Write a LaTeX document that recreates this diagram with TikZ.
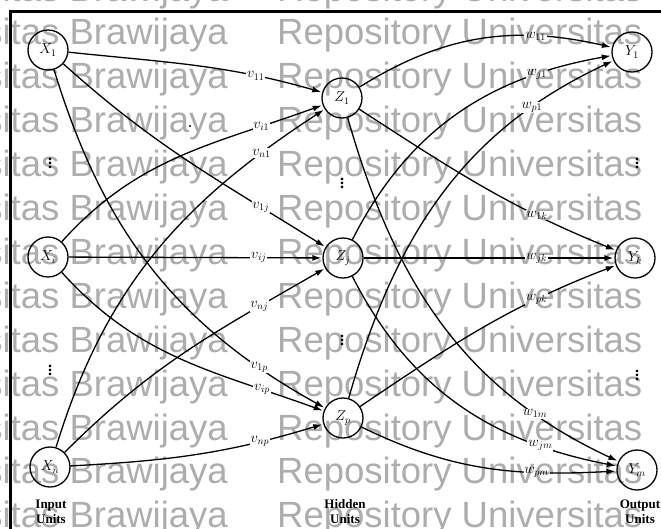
\documentclass[tikz,border=0pt]{standalone}
\usepackage{fontspec}
\setmainfont{Liberation Serif}
\newfontfamily\wmfont{Liberation Sans}
\usetikzlibrary{arrows.meta}

\begin{document}
\begin{tikzpicture}[x=1pt, y=1pt,
    % Style for the units (plain circles)
    unit/.style={circle, draw=black, line width=1.3pt, inner sep=0pt, minimum size=40pt, font=\fontsize{14}{14}\selectfont},
    % Style for the weighted connections
    link/.style={-{Latex[length=9pt, width=6pt]}, line width=1.3pt, shorten >=1pt},
    % Style for the weight labels
    wt/.style={fill=white, inner sep=0.8pt, font=\fontsize{14}{14}\selectfont},
    % Style for the layer captions
    layercap/.style={align=center, inner sep=0pt, font=\bfseries\fontsize{13}{15}\selectfont},
    % Style for the vertical ellipses
    gap/.style={inner sep=0pt, font=\bfseries\fontsize{16}{16}\selectfont},
    % Style for the watermark lettering
    wm/.style={text=black!32, inner sep=0pt, font=\wmfont\fontsize{36.5}{36.5}\selectfont}
]
\useasboundingbox (0,0) rectangle (661,-528);
\clip (0,0) rectangle (661,-528);

% Frame (left and top edges only)
\draw[line width=3pt] (10.5,-540) -- (10.5,-11.5) -- (670,-11.5);

% ==========================
% Units
% ==========================
\node[unit] (x1) at (48,-50)  {$X_1$};
\node[unit] (xi) at (48,-257) {$X_i$};
\node[unit] (xn) at (50,-467) {$X_n$};

\node[unit] (z1) at (342,-98)  {$Z_1$};
\node[unit] (zj) at (343,-258) {$Z_j$};
\node[unit] (zp) at (343,-418) {$Z_p$};

\node[unit] (y1) at (632,-52)  {$Y_1$};
\node[unit] (yk) at (635,-258) {$Y_k$};
\node[unit] (ym) at (637,-470) {$Y_m$};

% Ellipses between units
\node[gap] (d1) at (50,-160)  {$\vdots$};
\node[gap] (d2) at (50,-367)  {$\vdots$};
\node[gap] (d3) at (342,-180) {$\vdots$};
\node[gap] (d4) at (342,-337) {$\vdots$};
\node[gap] (d5) at (637,-160) {$\vdots$};
\node[gap] (d6) at (637,-372) {$\vdots$};
\fill (190,-126) circle (1.2pt);

% ==========================
% Input -> hidden (v weights)
% ==========================
\draw[link] (x1) to[out=-6, in=164]  node[wt, pos=0.75] {$v_{11}$} (z1);
\draw[link] (xi) to[out=48, in=200]  node[wt, pos=0.80] {$v_{i1}$} (z1);
\draw[link] (xn) to[out=73, in=213]  node[wt, pos=0.84] {$v_{n1}$} (z1);

\draw[link] (x1) to[out=-42, in=148] node[wt, pos=0.78] {$v_{1j}$} (zj);
\draw[link] (xi) --                  node[wt, pos=0.75] {$v_{ij}$} (zj);
\draw[link] (xn) to[out=45, in=210]  node[wt, pos=0.78] {$v_{nj}$} (zj);

\draw[link] (x1) to[out=-73, in=151] node[wt, pos=0.84] {$v_{1p}$} (zp);
\draw[link] (xi) to[out=-48, in=160] node[wt, pos=0.80] {$v_{ip}$} (zp);
\draw[link] (xn) to[out=3, in=197]   node[wt, pos=0.76] {$v_{np}$} (zp);

% ==========================
% Hidden -> output (w weights)
% ==========================
\draw[link] (z1) to[out=32, in=167]  node[wt, pos=0.72] {$w_{11}$} (y1);
\draw[link] (zj) to[out=63, in=190]  node[wt, pos=0.78] {$w_{j1}$} (y1);
\draw[link] (zp) to[out=74, in=205]  node[wt, pos=0.80] {$w_{p1}$} (y1);

\draw[link] (z1) to[out=-33, in=158] node[wt, pos=0.72] {$w_{1k}$} (yk);
\draw[link] (zj) --                  node[wt, pos=0.69] {$w_{jk}$} (yk);
\draw[link] (zp) to[out=34, in=201]  node[wt, pos=0.72] {$w_{pk}$} (yk);

\draw[link] (z1) to[out=-74, in=155] node[wt, pos=0.80] {$w_{1m}$} (ym);
\draw[link] (zj) to[out=-63, in=169] node[wt, pos=0.78] {$w_{jm}$} (ym);
\draw[link] (zp) to[out=-26, in=183] node[wt, pos=0.71] {$w_{pm}$} (ym);

% Layer captions
\node[layercap] (lin)  at (51,-512)  {Input\\Units};
\node[layercap] (lhid) at (345,-512) {Hidden\\Units};
\node[layercap] (lout) at (640,-512) {Output\\Units};

% ==========================
% Watermark rows (multiplied over the drawing)
% ==========================
\begin{scope}[blend mode=multiply]
\foreach \r in {0,...,12} {
    \node[wm, anchor=base east] at (228,{-1-43.9*\r}) {Universitas Brawijaya};
    \node[wm, anchor=base west] at (277,{-1-43.9*\r}) {Repository Universitas};
}
\end{scope}

\end{tikzpicture}
\end{document}
